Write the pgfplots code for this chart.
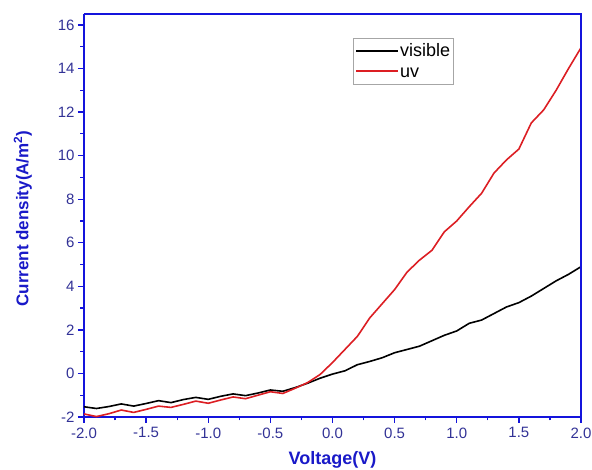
\documentclass[border=0pt]{standalone}
\usepackage{pgfplots}
\pgfplotsset{compat=1.18}
\usepackage{fontspec}
\setmainfont{Liberation Sans}
\definecolor{frameblue}{RGB}{20,20,220}
\definecolor{ticklab}{RGB}{50,50,150}
\definecolor{labblue}{RGB}{25,25,200}
\definecolor{uvred}{RGB}{220,30,35}
\begin{document}
\begin{tikzpicture}
\begin{axis}[
  scale only axis,
  width=497pt, height=403pt,
  xmin=-2, xmax=2, ymin=-2, ymax=16.5,
  xtick={-2,-1.5,...,2},
  ytick={-2,0,...,16},
  minor x tick num=1,
  minor y tick num=1,
  tick align=outside,
  axis x line*=bottom, axis y line*=left,
  axis line style={frameblue, line width=1.8pt},
  every tick/.style={frameblue, line width=1.3pt},
  major tick length=6pt, minor tick length=3.5pt,
  tick label style={font=\fontsize{15}{17}\selectfont, text=ticklab},
  xticklabel style={yshift=-1pt},
  /pgf/number format/assume math mode=true,
  xticklabel style={/pgf/number format/.cd, fixed, fixed zerofill, precision=1},
  yticklabel style={/pgf/number format/.cd, fixed, precision=0},
  xlabel={\bfseries Voltage(V)},
  ylabel={\bfseries Current density(A/m\textsuperscript{2})},
  xlabel style={font=\fontsize{18}{20}\selectfont, text=labblue, yshift=-6pt},
  ylabel style={font=\fontsize{17}{19}\selectfont, text=labblue, yshift=19pt, xshift=-3pt},
  legend style={at={(0.541,0.9405)}, anchor=north west, draw=gray!70, line width=0.5pt,
    font=\fontsize{18}{20}\selectfont, row sep=2pt, inner xsep=2pt, inner ysep=3.5pt,
    nodes={inner sep=1pt, text height=14pt, text depth=2.5pt}},
  legend cell align=left,
  legend image code/.code={\draw[#1, line width=2pt] (0pt,0pt) -- (42pt,0pt);},
  clip=false,
]
\addplot[black, line width=1.6pt] coordinates {
(-2.0,-1.53) (-1.9,-1.61) (-1.8,-1.52) (-1.7,-1.40) (-1.6,-1.50) (-1.5,-1.38)
(-1.4,-1.25) (-1.3,-1.34) (-1.2,-1.20) (-1.1,-1.10) (-1.0,-1.19) (-0.9,-1.05)
(-0.8,-0.94) (-0.7,-1.02) (-0.6,-0.90) (-0.5,-0.76) (-0.4,-0.82) (-0.3,-0.65)
(-0.2,-0.45) (-0.1,-0.22) (0.0,-0.03) (0.1,0.12) (0.2,0.40) (0.3,0.55)
(0.4,0.72) (0.5,0.95) (0.6,1.10) (0.7,1.25) (0.8,1.50) (0.9,1.75)
(1.0,1.95) (1.1,2.30) (1.2,2.45) (1.3,2.75) (1.4,3.05) (1.5,3.25)
(1.6,3.55) (1.7,3.90) (1.8,4.25) (1.9,4.55) (2.0,4.90)
};
\addlegendentry{visible}
\addplot[uvred, line width=1.6pt] coordinates {
(-2.0,-1.86) (-1.9,-1.98) (-1.8,-1.85) (-1.7,-1.68) (-1.6,-1.79) (-1.5,-1.65)
(-1.4,-1.50) (-1.3,-1.56) (-1.2,-1.42) (-1.1,-1.27) (-1.0,-1.37) (-0.9,-1.22)
(-0.8,-1.08) (-0.7,-1.16) (-0.6,-1.00) (-0.5,-0.84) (-0.4,-0.92) (-0.3,-0.68)
(-0.2,-0.42) (-0.1,-0.05) (0.0,0.50) (0.1,1.10) (0.2,1.70) (0.3,2.55)
(0.4,3.20) (0.5,3.85) (0.6,4.65) (0.7,5.20) (0.8,5.65) (0.9,6.50)
(1.0,7.00) (1.1,7.65) (1.2,8.27) (1.3,9.20) (1.4,9.80) (1.5,10.30)
(1.6,11.50) (1.7,12.10) (1.8,13.00) (1.9,14.00) (2.0,14.95)
};
\addlegendentry{uv}
\draw[frameblue, line width=1.8pt] (rel axis cs:0,1) -- (rel axis cs:1,1) -- (rel axis cs:1,0);
\end{axis}
\pgfresetboundingbox
\path (current axis.south west) ++(-84pt,-53pt) coordinate (bl);
\path (current axis.north east) ++(11pt,14pt) coordinate (tr);
\path (bl) rectangle (tr);
\end{tikzpicture}
\end{document}
